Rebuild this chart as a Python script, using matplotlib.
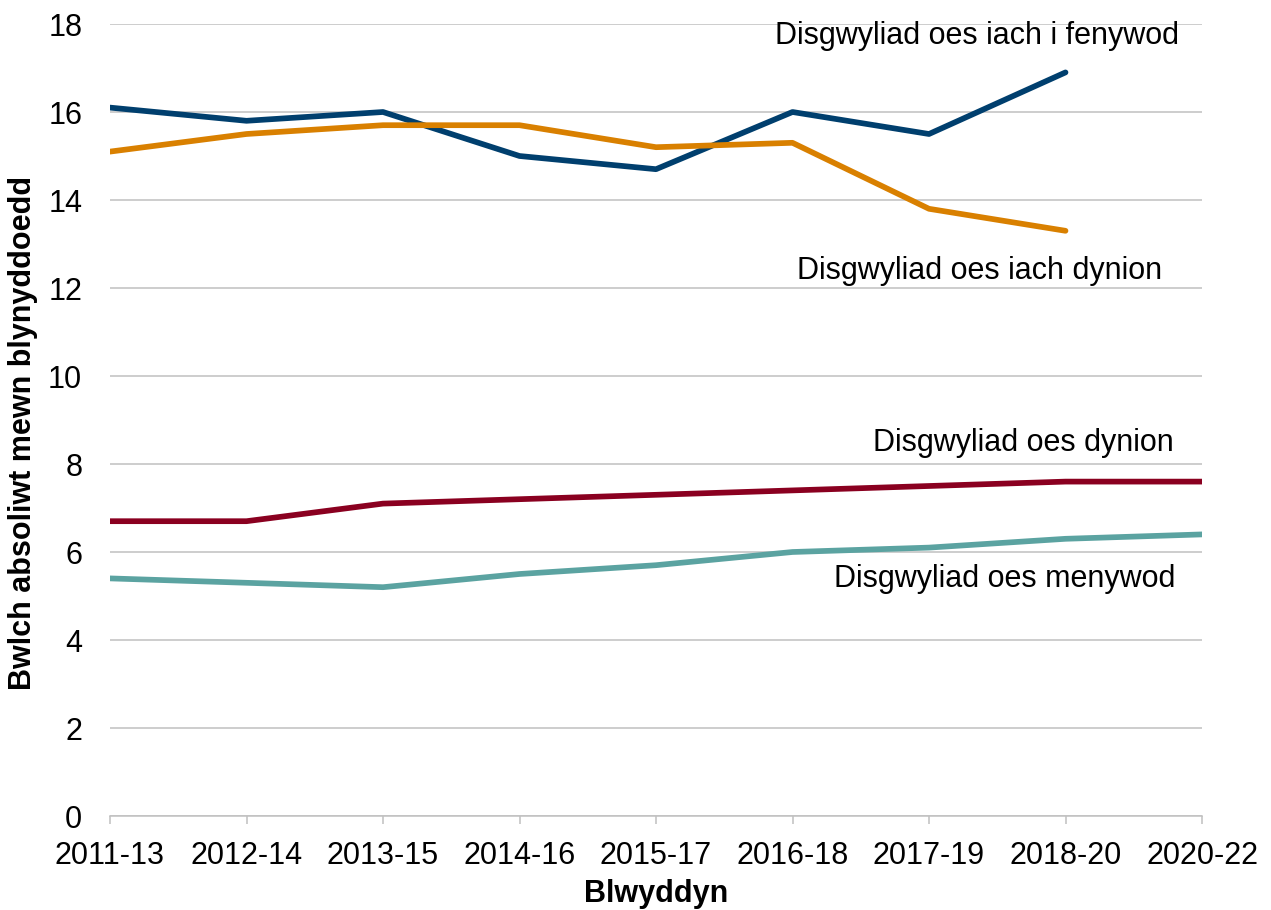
import matplotlib
matplotlib.use("Agg")
import matplotlib.pyplot as plt
import numpy as np

plt.rcParams['font.family'] = ['Liberation Sans', 'DejaVu Sans']

years = ["2011-13", "2012-14", "2013-15", "2014-16", "2015-17", "2016-18", "2017-19", "2018-20", "2020-22"]
hle_women = [16.1, 15.8, 16.0, 15.0, 14.7, 16.0, 15.5, 16.9, np.nan]
hle_men = [15.1, 15.5, 15.7, 15.7, 15.2, 15.3, 13.8, 13.3, np.nan]
le_men = [6.7, 6.7, 7.1, 7.2, 7.3, 7.4, 7.5, 7.6, 7.6]
le_women = [5.4, 5.3, 5.2, 5.5, 5.7, 6.0, 6.1, 6.3, 6.4]

labels = ["Disgwyliad oes iach i fenywod", "Disgwyliad oes iach dynion",
          "Disgwyliad oes dynion", "Disgwyliad oes menywod"]
colors = ["#003F6E", "#D98000", "#8A0020", "#5BA3A1"]

fig = plt.figure(figsize=(12.71, 9.10), dpi=100)
ax = fig.add_axes([110/1271, 1-816/910, (1202-110)/1271, (816-24)/910])

x = np.arange(len(years))
for ys, c in zip([hle_women, hle_men, le_men, le_women], colors):
    ax.plot(x, ys, color=c, lw=4.1, solid_capstyle='round', solid_joinstyle='round', zorder=3)

ax.set_xlim(0, len(years)-1)
ax.set_ylim(0, 18)
ax.set_yticks(np.arange(0, 19, 2))
ax.set_xticks(x)
ax.set_xticklabels(years)
ax.grid(axis='y', color='#C0C0C0', lw=1.1)
ax.set_axisbelow(True)
for s in ['top', 'right', 'left']:
    ax.spines[s].set_visible(False)
ax.spines['bottom'].set_color('#C0C0C0')
ax.spines['bottom'].set_linewidth(1.1)
ax.tick_params(axis='y', length=0, pad=20, labelsize=22)
ax.tick_params(axis='x', length=6, color='#C0C0C0', width=1.1, pad=12, labelsize=22)

ax.set_ylabel("Bwlch absoliwt mewn blynyddoedd", fontsize=22, fontweight='bold')
ax.yaxis.set_label_coords(-0.066, 0.484)
ax.set_xlabel("Blwyddyn", fontsize=22, fontweight='bold', labelpad=6)

label_pos = [(4.872, 17.73), (5.033, 12.39), (5.59, 8.48), (5.304, 5.39)]
for t, (lx, ly) in zip(labels, label_pos):
    ax.text(lx, ly, t, fontsize=22, ha='left', va='center', color='black')

fig.savefig("out.png", dpi=100)
